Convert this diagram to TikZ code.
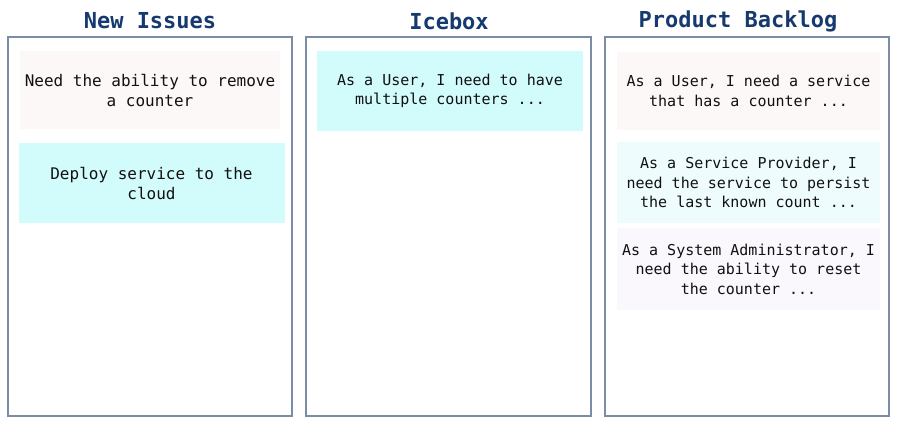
\documentclass[tikz,border=0pt]{standalone}
\usepackage{fontspec}
\setmonofont{DejaVu Sans Mono}
\definecolor{titlec}{HTML}{163A70}
\definecolor{framec}{HTML}{7A8CA6}
\definecolor{cyanc}{HTML}{D2FBFC}
\definecolor{pinkc}{HTML}{FCF8F7}
\definecolor{palecyan}{HTML}{EFFCFD}
\definecolor{lavc}{HTML}{FAF8FC}
\definecolor{textc}{HTML}{111111}
\tikzset{
  column/.style={draw=framec, line width=1.4pt, fill=white, minimum width=#1, minimum height=379pt, inner sep=0pt},
  coltitle/.style={text=titlec, font=\ttfamily\bfseries\fontsize{22}{26}\selectfont, inner sep=0pt},
  card/.style={inner sep=0pt, align=center, text=textc, font=\ttfamily\fontsize{15}{19.5}\selectfont},
  bigcard/.style={card, font=\ttfamily\fontsize{16}{20}\selectfont},
}
\begin{document}
\begin{tikzpicture}[x=1pt,y=-1pt]
\useasboundingbox (0,0) rectangle (899,424);
\fill[white] (0,0) rectangle (899,424);
% columns
\node[column=284pt] (c1) at (150,226.5) {};
\node[column=285pt] (c2) at (448.5,226.5) {};
\node[column=284pt] (c3) at (747,226.5) {};
% titles
\node[coltitle] (t1) at (150,21) {New Issues};
\node[coltitle] (t2) at (449,21) {Icebox};
\node[coltitle] (t3) at (738,21) {Product Backlog};
% cards
\node[bigcard, fill=pinkc, minimum width=260pt, minimum height=78pt] (a1) at (150,90) {Need the ability to remove\\a counter};
\node[bigcard, fill=cyanc, minimum width=266pt, minimum height=80pt] (a2) at (151.5,183) {Deploy service to the\\cloud};
\node[card, fill=cyanc, minimum width=266pt, minimum height=80pt] (b1) at (450,91) {As a User, I need to have\\multiple counters ...};
\node[card, fill=pinkc, minimum width=263pt, minimum height=78pt] (p1) at (748.5,91) {As a User, I need a service\\that has a counter ...};
\node[card, fill=palecyan, minimum width=263pt, minimum height=81pt] (p2) at (748.5,182.5) {As a Service Provider, I\\need the service to persist\\the last known count ...};
\node[card, fill=lavc, minimum width=263pt, minimum height=82pt] (p3) at (748.5,269) {As a System Administrator, I\\need the ability to reset\\the counter ...};
\end{tikzpicture}
\end{document}
